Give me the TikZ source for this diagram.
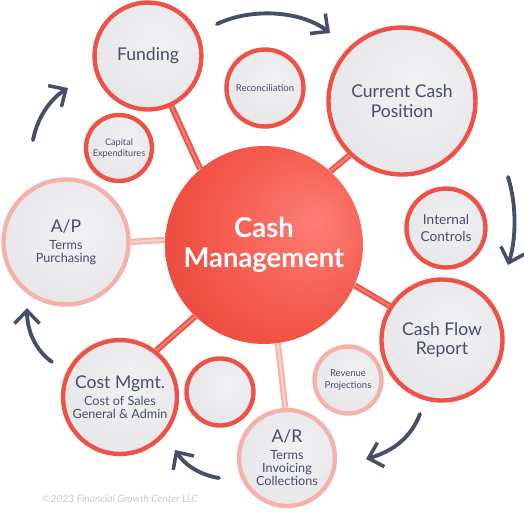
\documentclass[tikz,border=0pt]{standalone}
\usepackage{fontspec}
\setmainfont{Lato}
\usepackage{tikz}
\usetikzlibrary{arrows.meta}

\definecolor{inkblue}{HTML}{484D68}
\definecolor{rimred}{HTML}{EE5246}
\definecolor{rimpink}{HTML}{F6B1AA}
\definecolor{tubered}{HTML}{F47D72}
\definecolor{tubepink}{HTML}{FBD0CB}
\definecolor{bubA}{HTML}{F1F1F3}
\definecolor{bubB}{HTML}{E7E7EA}
\definecolor{bubC}{HTML}{D6D6DA}
\definecolor{bubD}{HTML}{ACACB3}
\definecolor{hubA}{HTML}{FC7F75}
\definecolor{hubB}{HTML}{F5594D}
\definecolor{hubC}{HTML}{E23F30}
\definecolor{hubD}{HTML}{962A22}
\definecolor{notegray}{HTML}{C9C9CC}

\pgfdeclareradialshading{bubbleshade}{\pgfpoint{6bp}{6bp}}{color(0bp)=(bubA); color(30bp)=(bubB); color(49bp)=(bubC); color(60bp)=(bubD); color(70bp)=(bubD)}
\pgfdeclareradialshading{hubshade}{\pgfpoint{14bp}{6bp}}{color(0bp)=(hubA); color(22bp)=(hubB); color(46bp)=(hubC); color(62bp)=(hubD); color(70bp)=(hubD)}

\begin{document}
\begin{tikzpicture} [x=0.02cm, y=-0.02cm,
        bubble/.style={circle, draw=rimred, line width=2.5pt, shading=bubbleshade,
                       text=inkblue, align=center, inner sep=0pt},
        pinkbubble/.style={bubble, draw=rimpink},
        hub/.style={circle, shading=hubshade, text=white, align=center,
                    font=\bfseries\fontsize{15.6}{17.2}\selectfont, minimum size=3.96cm},
        spoke/.style={draw=rimred, line width=1.1pt, double=tubered, double distance=1.3pt},
        pinkspoke/.style={spoke, draw=rimpink, double=tubepink},
        turn/.style={draw=inkblue, line width=2.2pt, line cap=round,
                     -{Straight Barb[length=2.6mm, width=5mm, line width=2pt]}},
        big/.style={font=\fontsize{10}{11.3}\selectfont},
        mid/.style={font=\fontsize{7.8}{9.6}\selectfont},
        small/.style={font=\fontsize{7.2}{7.4}\selectfont},
        tiny/.style={font=\fontsize{5.4}{6.6}\selectfont}]
        \useasboundingbox (0,0) rectangle (524,532);

        % spokes go under the bubbles
        \node (hub) [hub] at (264,245) {Cash\\Management};
        \node (funding) [bubble, big, minimum size=2.14cm] at (148,56) {Funding};
        \node (recon) [bubble, tiny, minimum size=1.54cm] at (265,88) {Reconciliation};
        \node (ccp) [bubble, big, minimum size=2.94cm] at (402,101) {Current Cash\\Position};
        \node (ictrl) [bubble, mid, minimum size=1.58cm] at (446,228) {Internal\\Controls};
        \node (cfr) [bubble, big, minimum size=2.42cm] at (442,340) {Cash Flow\\Report};
        \node (revproj) [pinkbubble, font=\fontsize{5.4}{6.8}\selectfont,
                         minimum size=1.34cm] at (348,380) {Revenue\\Projections};
        \node (ar) [pinkbubble, small, minimum size=1.92cm] at (287,458)
              {{\fontsize{10}{12}\selectfont A/R}\\[2.2pt]Terms\\Invoicing\\Collections};
        \node (blank) [bubble, minimum size=1.34cm] at (220,392) {};
        \node (cost) [bubble, small, minimum size=2.28cm] at (120,397)
              {{\fontsize{10}{12}\selectfont Cost Mgmt.}\\[2.2pt]Cost of Sales\\General \& Admin};
        \node (ap) [pinkbubble, small, minimum size=2.5cm] at (66,242)
              {{\fontsize{10}{12}\selectfont A/P}\\[2.2pt]Terms\\Purchasing};
        \node (capex) [bubble, font=\fontsize{5.2}{6.2}\selectfont,
                       minimum size=1.32cm] at (119,148) {Capital\\Expenditures};

        \draw [spoke] (hub.130) -- (funding.-65);
        \draw [spoke] (hub.48) -- (ccp.-134);
        \draw [spoke] (hub.-24) -- (cfr.147);
        \draw [spoke] (hub.-134) -- (cost.52);
        \draw [pinkspoke] (hub.-82) -- (ar.92);
        \draw [pinkspoke] (hub.177.7) -- (ap.0);

        % round-the-clock arrows
        \coordinate (t1) at (217,24);   \coordinate (h1) at (330,33);
        \coordinate (t2) at (508,177);  \coordinate (h2) at (508,265);
        \coordinate (t3) at (420,414);  \coordinate (h3) at (366,459);
        \coordinate (t4) at (219,478);  \coordinate (h4) at (175,450);
        \coordinate (t5) at (52,362);   \coordinate (h5) at (27,308);
        \coordinate (t6) at (33,140);   \coordinate (h6) at (68,88);

        \draw [turn] (t1) .. controls (250,8) and (300,10) .. (h1);
        \draw [turn] (t2) .. controls (517,205) and (516,240) .. (h2);
        \draw [turn] (t3) .. controls (410,440) and (390,452) .. (h3);
        \draw [turn] (t4) .. controls (200,475) and (185,465) .. (h4);
        \draw [turn] (t5) .. controls (35,350) and (27,330) .. (h5);
        \draw [turn] (t6) .. controls (38,115) and (52,98) .. (h6);

        \node (credit) [text=notegray, font=\itshape\fontsize{5.8}{7}\selectfont]
              at (120,499) {©2023 Financial Growth Center LLC};
\end{tikzpicture}
\end{document}
